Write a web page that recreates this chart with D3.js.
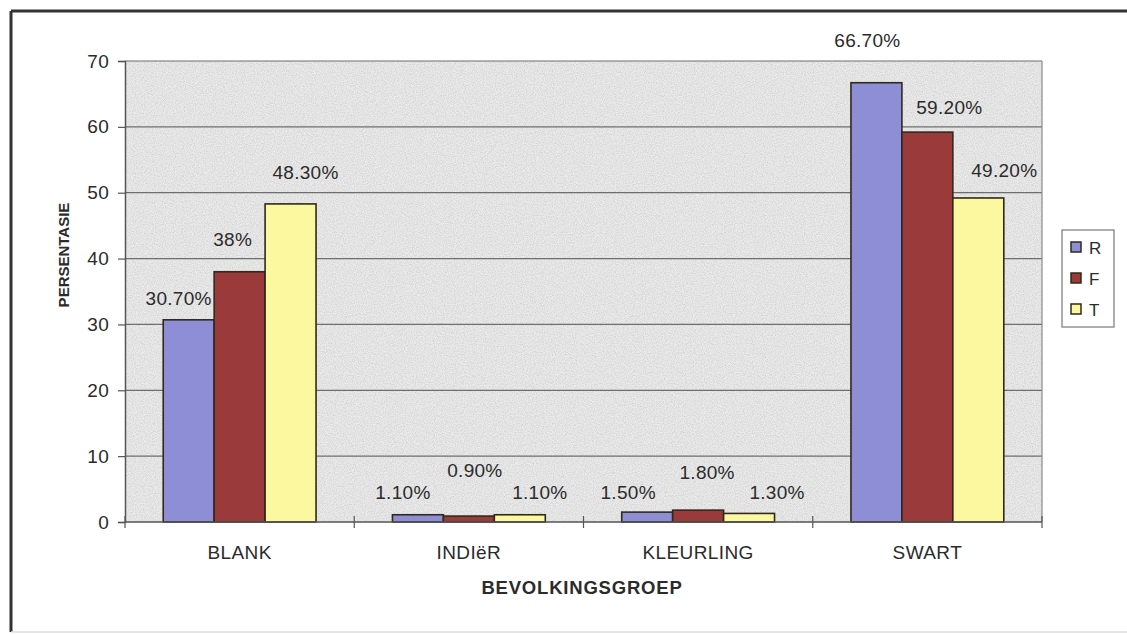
<!DOCTYPE html>
<html><head><meta charset="utf-8">
<script src="https://cdn.jsdelivr.net/npm/d3@7"></script>
<style>
html,body{margin:0;padding:0;background:#fff;}
svg{display:block;font-family:"Liberation Sans",Arial,sans-serif;}
</style></head>
<body>
<svg id="chart" width="1127" height="634"></svg>
<script>
// ---- data ----
const categories = ["BLANK", "INDIëR", "KLEURLING", "SWART"];
const seriesNames = ["R", "F", "T"];
const valuesR = [30.7, 1.1, 1.5, 66.7];
const valuesF = [38, 0.9, 1.8, 59.2];
const valuesT = [48.3, 1.1, 1.3, 49.2];
const labelsR = ["30.70%", "1.10%", "1.50%", "66.70%"];
const labelsF = ["38%", "0.90%", "1.80%", "59.20%"];
const labelsT = ["48.30%", "1.10%", "1.30%", "49.20%"];
const yTicks = [0, 10, 20, 30, 40, 50, 60, 70];

// ---- layout / style (not data) ----
const colors = {R: "#8e8ed6", F: "#9a3a3a", T: "#fbf8a0"};
// label offsets: [dx from bar centre, gap above bar top] per series, per category
const labelShift = {
  R: [[-10, 22], [-15, 23], [-19, 20], [-9, 43]],
  F: [[-7, 33], [6, 46], [9, 38], [22, 25]],
  T: [[15, 32], [20, 23], [28, 21], [26, 28]]
};

const svg = d3.select("#chart");
const W = 1127, H = 634;
const plot = {left: 125, right: 1042, top: 61, bottom: 522};
const textColor = "#2b2b2b";

// outer frame
svg.append("line").attr("x1", 11).attr("y1", 11).attr("x2", W).attr("y2", 11)
  .attr("stroke", "#333").attr("stroke-width", 3);
svg.append("line").attr("x1", 11).attr("y1", 11).attr("x2", 11).attr("y2", 632)
  .attr("stroke", "#333").attr("stroke-width", 3);
svg.append("line").attr("x1", 11).attr("y1", 632).attr("x2", W).attr("y2", 632)
  .attr("stroke", "#dcdcdc").attr("stroke-width", 1.5);

// texture filter
const defs = svg.append("defs");
const f = defs.append("filter").attr("id", "noise").attr("x", 0).attr("y", 0).attr("width", "100%").attr("height", "100%");
f.append("feTurbulence").attr("type", "fractalNoise").attr("baseFrequency", 0.9).attr("numOctaves", 2).attr("seed", 3).attr("result", "n");
f.append("feColorMatrix").attr("in", "n").attr("type", "matrix")
  .attr("values", "0 0 0 0 0.45  0 0 0 0 0.45  0 0 0 0 0.45  0 0 0 -1.6 1.05");

const x0 = d3.scaleBand().domain(categories).range([plot.left, plot.right]).padding(0);
const x1 = d3.scaleBand().domain(seriesNames).range([0, x0.bandwidth()]).paddingInner(0).paddingOuter(0.75);
const y = d3.scaleLinear().domain([0, 70]).range([plot.bottom, plot.top]);

// plot area background
svg.append("rect").attr("x", plot.left).attr("y", plot.top)
  .attr("width", plot.right - plot.left).attr("height", plot.bottom - plot.top)
  .attr("fill", "#ebebeb");
svg.append("rect").attr("x", plot.left).attr("y", plot.top)
  .attr("width", plot.right - plot.left).attr("height", plot.bottom - plot.top)
  .attr("fill", "#fff").attr("filter", "url(#noise)").attr("opacity", 0.55);

// gridlines
svg.append("g").selectAll("line").data(yTicks.filter(d => d > 0)).join("line")
  .attr("x1", plot.left).attr("x2", plot.right)
  .attr("y1", d => y(d)).attr("y2", d => y(d))
  .attr("stroke", "#6e6e6e").attr("stroke-width", 1.2);
// right border of plot
svg.append("line").attr("x1", plot.right).attr("x2", plot.right).attr("y1", plot.top).attr("y2", plot.bottom)
  .attr("stroke", "#8a8a8a").attr("stroke-width", 1.2);

// bars
const seriesValues = {R: valuesR, F: valuesF, T: valuesT};
const seriesLabels = {R: labelsR, F: labelsF, T: labelsT};
const barData = [];
categories.forEach((c, i) => seriesNames.forEach(s => barData.push({c, i, s, v: seriesValues[s][i], lab: seriesLabels[s][i]})));

svg.append("g").selectAll("rect").data(barData).join("rect")
  .attr("x", d => x0(d.c) + x1(d.s))
  .attr("y", d => y(d.v))
  .attr("width", x1.bandwidth())
  .attr("height", d => y(0) - y(d.v))
  .attr("fill", d => colors[d.s])
  .attr("stroke", "#2f2a1c").attr("stroke-width", 1.6);

// axes
const yAxis = d3.axisLeft(y).tickValues(yTicks).tickSize(7).tickPadding(9);
const gy = svg.append("g").attr("transform", `translate(${plot.left},0)`).call(yAxis);
gy.select(".domain").attr("stroke", "#555").attr("stroke-width", 1.5);
gy.selectAll(".tick line").attr("stroke", "#555").attr("stroke-width", 1.2);
gy.selectAll("text").attr("font-size", 19).attr("fill", textColor).attr("font-family", "Liberation Sans, Arial").style("letter-spacing", "0.3px");

// x axis line and cross ticks
svg.append("line").attr("x1", plot.left).attr("x2", plot.right).attr("y1", plot.bottom).attr("y2", plot.bottom)
  .attr("stroke", "#555").attr("stroke-width", 1.5);
const xTickPos = categories.map(c => x0(c)).concat([x0(categories[categories.length - 1]) + x0.bandwidth()]);
svg.append("g").selectAll("line").data(xTickPos).join("line")
  .attr("x1", d => d).attr("x2", d => d).attr("y1", plot.bottom - 6).attr("y2", plot.bottom + 6)
  .attr("stroke", "#555").attr("stroke-width", 1.2);
svg.append("g").selectAll("text").data(categories).join("text")
  .attr("x", d => x0(d) + x0.bandwidth() / 2).attr("y", 559)
  .attr("text-anchor", "middle").attr("font-size", 19).attr("fill", textColor)
  .style("letter-spacing", "0.4px").text(d => d);

// value labels
svg.append("g").selectAll("text").data(barData).join("text")
  .attr("x", d => x0(d.c) + x1(d.s) + x1.bandwidth() / 2 + labelShift[d.s][d.i][0])
  .attr("y", d => y(d.v) - labelShift[d.s][d.i][1] + 7)
  .attr("text-anchor", "middle").attr("font-size", 19).attr("fill", textColor)
  .style("letter-spacing", "0.3px").text(d => d.lab);

// axis titles
svg.append("text").attr("x", 582).attr("y", 594).attr("text-anchor", "middle")
  .attr("font-size", 18.5).attr("font-weight", "bold").attr("fill", textColor)
  .style("letter-spacing", "0.8px").text("BEVOLKINGSGROEP");
svg.append("text").attr("transform", "translate(69,255) rotate(-90)").attr("text-anchor", "middle")
  .attr("font-size", 15).attr("font-weight", "bold").attr("fill", textColor)
  .text("PERSENTASIE");

// legend
const lg = svg.append("g");
lg.append("rect").attr("x", 1062).attr("y", 230).attr("width", 52).attr("height", 97)
  .attr("fill", "#fff").attr("stroke", "#777").attr("stroke-width", 1.2);
const legendY = d3.scalePoint().domain(seriesNames).range([247, 309]);
lg.selectAll("rect.sw").data(seriesNames).join("rect").attr("class", "sw")
  .attr("x", 1071).attr("y", d => legendY(d) - 5).attr("width", 10).attr("height", 10)
  .attr("fill", d => colors[d]).attr("stroke", "#2f2a1c").attr("stroke-width", 1.5);
lg.selectAll("text").data(seriesNames).join("text")
  .attr("x", 1089).attr("y", d => legendY(d) + 6.5)
  .attr("font-size", 17).attr("fill", textColor).text(d => d);
</script>
</body></html>
